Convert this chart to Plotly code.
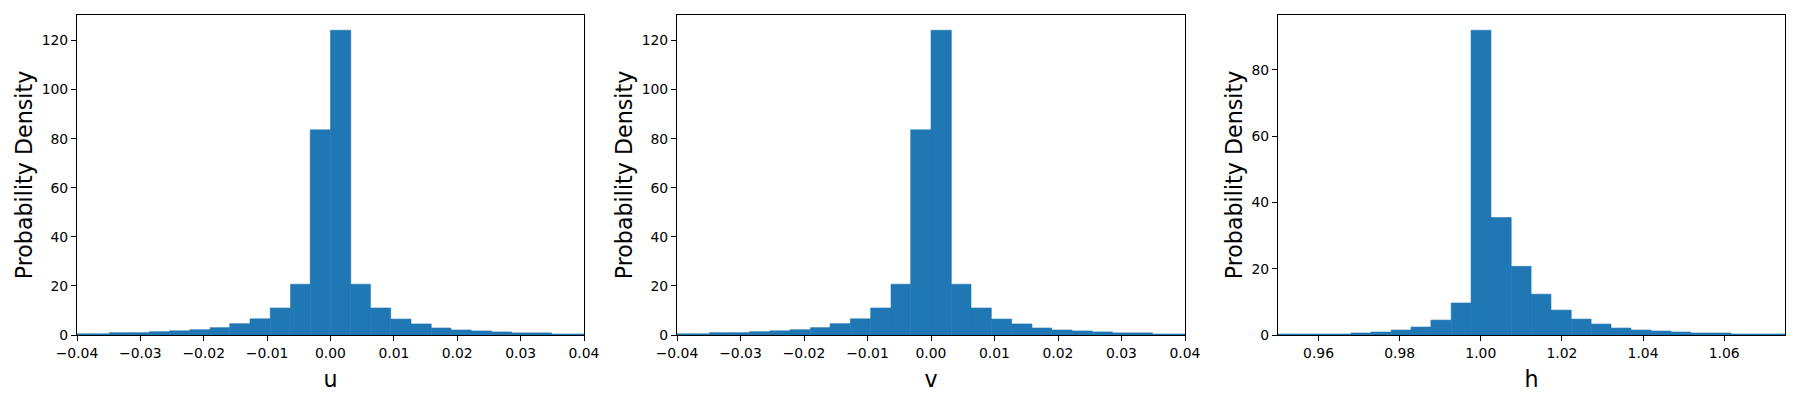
import numpy as np
import plotly.graph_objects as go

# ---- data ----
u_edges = [-0.0413, -0.0381, -0.0349, -0.0317, -0.0286, -0.0254, -0.0222, -0.0190, -0.0159,
           -0.0127, -0.0095, -0.0063, -0.0032, 0.0000, 0.0032, 0.0063, 0.0095, 0.0127,
           0.0159, 0.0190, 0.0222, 0.0254, 0.0286, 0.0317, 0.0349, 0.0381, 0.0413]
u_density = [0.5, 0.5, 0.95, 0.95, 1.35, 1.7, 2.15, 3.0, 4.6, 6.6, 11.0, 20.7, 83.6,
             124.2, 20.7, 11.0, 6.5, 4.5, 2.85, 2.05, 1.65, 1.25, 0.85, 0.85, 0.4, 0.4]

v_edges = [-0.0413, -0.0381, -0.0349, -0.0317, -0.0286, -0.0254, -0.0222, -0.0190, -0.0159,
           -0.0127, -0.0095, -0.0063, -0.0032, 0.0000, 0.0032, 0.0063, 0.0095, 0.0127,
           0.0159, 0.0190, 0.0222, 0.0254, 0.0286, 0.0317, 0.0349, 0.0381, 0.0413]
v_density = [0.5, 0.5, 0.95, 0.95, 1.35, 1.7, 2.15, 3.0, 4.6, 6.6, 11.0, 20.7, 83.6,
             124.2, 20.7, 11.0, 6.5, 4.5, 2.85, 2.05, 1.65, 1.25, 0.85, 0.85, 0.4, 0.4]

h_edges = [0.9483, 0.9532, 0.9581, 0.9631, 0.9680, 0.9729, 0.9779, 0.9828, 0.9877,
           0.9927, 0.9976, 1.0025, 1.0075, 1.0124, 1.0173, 1.0223, 1.0272, 1.0321,
           1.0370, 1.0420, 1.0469, 1.0518, 1.0568, 1.0617, 1.0666, 1.0715, 1.0765]
h_density = [0.3, 0.3, 0.3, 0.3, 0.6, 0.9, 1.5, 2.4, 4.5, 9.65, 91.9, 35.4, 20.7,
             12.3, 7.5, 4.8, 3.3, 2.1, 1.5, 1.2, 0.9, 0.6, 0.6, 0.3, 0.3, 0.3]

x_labels = ["u", "v", "h"]
y_label = "Probability Density"
uv_xticks = [-0.04, -0.03, -0.02, -0.01, 0.00, 0.01, 0.02, 0.03, 0.04]
h_xticks = [0.96, 0.98, 1.00, 1.02, 1.04, 1.06]
uv_yticks = [0, 20, 40, 60, 80, 100, 120]
h_yticks = [0, 20, 40, 60, 80]

# ---- figure ----
W, H = 1800, 400
BLUE = "#1f77b4"
FONT = "DejaVu Sans"
TICK_SIZE = 13.9
LABEL_SIZE = 22.2

panels = [
    (u_edges, u_density, [-0.04, 0.04], uv_xticks, uv_yticks),
    (v_edges, v_density, [-0.04, 0.04], uv_xticks, uv_yticks),
    (h_edges, h_density, [0.95, 1.075], h_xticks, h_yticks),
]
x_px = [(77, 584), (677, 1185), (1278, 1785)]

fig = go.Figure()
layout = {}
for i, (edges, dens, xr, xt, yt) in enumerate(panels):
    e = np.array(edges)
    centers = (e[:-1] + e[1:]) / 2
    widths = np.diff(e)
    n = "" if i == 0 else str(i + 1)
    fig.add_trace(go.Bar(
        x=centers, y=dens, width=widths,
        marker=dict(color=BLUE, line=dict(width=0.6, color=BLUE)),
        xaxis="x" + n, yaxis="y" + n, showlegend=False,
    ))
    ymax = max(dens) * 1.05
    common = dict(
        showline=True, linecolor="black", linewidth=1.1, mirror=True,
        ticks="outside", ticklen=5, tickwidth=1.1, tickcolor="black",
        showgrid=False, zeroline=False,
        tickfont=dict(family=FONT, size=TICK_SIZE, color="black"),
    )
    layout["xaxis" + n] = dict(
        common, domain=[x_px[i][0] / W, x_px[i][1] / W], range=xr,
        tickvals=xt, tickformat=".2f", anchor="y" + n,
        title=dict(text=x_labels[i], font=dict(family=FONT, size=LABEL_SIZE, color="black"),
                   standoff=11),
    )
    layout["yaxis" + n] = dict(
        common, domain=[0, 1], range=[0, ymax], tickvals=yt, anchor="x" + n,
        title=dict(text=y_label, font=dict(family=FONT, size=LABEL_SIZE, color="black"),
                   standoff=2),
    )

fig.update_layout(
    width=W, height=H,
    margin=dict(l=0, r=0, t=15, b=65, autoexpand=False),
    paper_bgcolor="white", plot_bgcolor="white",
    font=dict(family=FONT, color="black"),
    **layout,
)
fig.write_html("out.html",
               config={"displayModeBar": False},
               post_script="document.body.style.margin='0';document.body.style.padding='0';")
